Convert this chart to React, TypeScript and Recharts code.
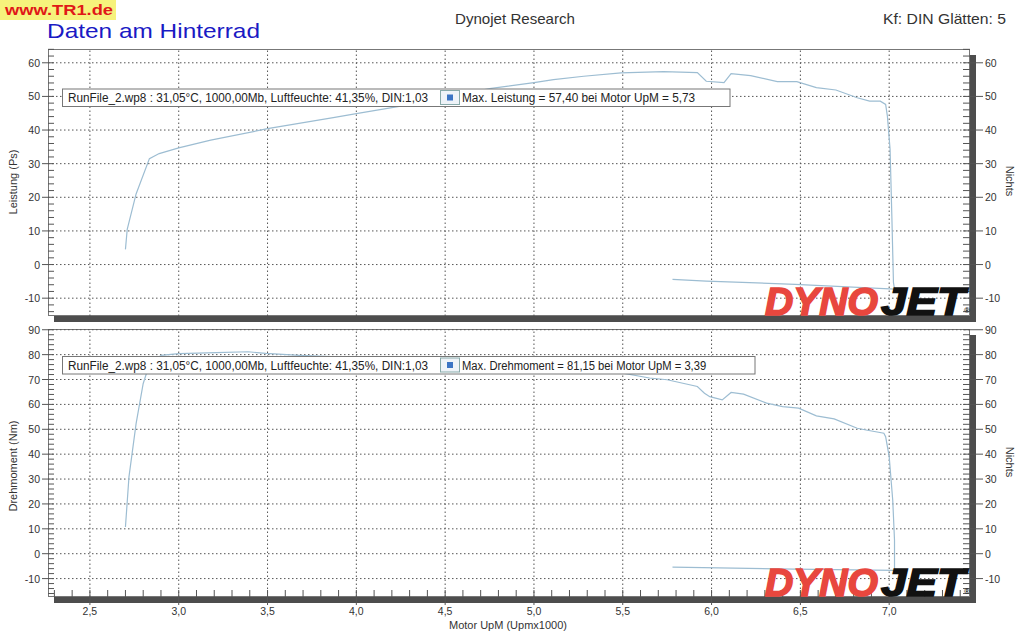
import React from 'react';
import { LineChart, Line, XAxis, YAxis, ReferenceLine } from 'recharts';

// Leistung (Ps) über Motor UpM (x1000) – Lauf inkl. Auslauf am Ende
const leistungRpm = [2.70, 2.71, 2.76, 2.835, 2.89, 3.00, 3.18, 3.50, 3.87, 4.00, 4.25, 4.50, 4.75, 5.00, 5.11, 5.28, 5.49, 5.73, 5.92, 5.97, 6.07, 6.11, 6.22, 6.37, 6.48, 6.59, 6.70, 6.82, 6.89, 6.95, 6.98, 6.99, 7.005, 7.015, 7.024, 7.03, 6.47, 5.97, 5.78];
const leistungPs = [4.5, 10.5, 21.0, 31.5, 33.0, 34.7, 37.0, 40.4, 43.7, 44.9, 47.1, 49.8, 52.3, 54.1, 55.0, 56.0, 57.0, 57.4, 57.1, 54.5, 54.1, 56.8, 56.2, 54.4, 54.4, 52.6, 51.9, 49.6, 48.6, 48.6, 47.6, 44.1, 34.3, 14.4, -5.3, -7.3, -5.9, -4.9, -4.4];

// Drehmoment (Nm)
const drehRpm = [2.70, 2.72, 2.76, 2.80, 2.83, 2.90, 3.00, 3.21, 3.39, 3.49, 3.68, 4.00, 4.50, 5.00, 5.50, 5.65, 5.75, 5.92, 5.96, 5.99, 6.06, 6.11, 6.18, 6.31, 6.40, 6.49, 6.59, 6.69, 6.82, 6.87, 6.97, 6.98, 7.00, 7.02, 7.03, 7.03, 6.47, 5.78];
const drehNm = [10.7, 31.0, 52.3, 68.4, 75.0, 79.7, 80.4, 80.8, 81.15, 80.5, 79.7, 78.8, 77.4, 75.8, 72.6, 70.6, 69.9, 67.2, 64.5, 63.1, 61.8, 64.8, 64.1, 60.5, 59.1, 58.5, 55.4, 54.2, 50.4, 49.7, 48.4, 47.0, 39.0, 21.5, 5.4, -6.7, -6.2, -5.4];

const rpmTicks = [2.5, 3.0, 3.5, 4.0, 4.5, 5.0, 5.5, 6.0, 6.5, 7.0];
const leistungTicks = [-10, 0, 10, 20, 30, 40, 50, 60];
const drehTicks = [-10, 0, 10, 20, 30, 40, 50, 60, 70, 80, 90];

const leistungLegende = 'Max. Leistung = 57,40 bei Motor UpM = 5,73';
const drehLegende = 'Max. Drehmoment = 81,15 bei Motor UpM = 3,39';
const laufInfo = 'RunFile_2.wp8 : 31,05°C, 1000,00Mb, Luftfeuchte: 41,35%, DIN:1,03';

const leistungData = leistungRpm.map((rpm, i) => ({ rpm, ps: leistungPs[i] }));
const drehData = drehRpm.map((rpm, i) => ({ rpm, nm: drehNm[i] }));

const X_DOMAIN: [number, number] = [2.264, 7.455];
const LEISTUNG_DOMAIN: [number, number] = [-15.3, 64.1];
const DREH_DOMAIN: [number, number] = [-17.4, 90.3];

const FONT = '"Liberation Sans", Arial, sans-serif';
const LINE = '#9dbdd2';
const GRID = '#555';

// kleine Zwischenstriche an den Achsen
const steps = (from: number, to: number, step: number) => {
  const out: number[] = [];
  for (let v = from; v <= to + 1e-9; v += step) out.push(Math.round(v * 10) / 10);
  return out;
};

const fmt = (v: number) => String(v).replace('.', ',');
const fmtRpm = (v: number) => v.toFixed(1).replace('.', ',');

const makeLeftTick = (majors: number[]) => (props: any) => {
  const { x, y, payload } = props;
  const major = majors.includes(payload.value);
  return (
    <g>
      <line x1={x} x2={x + 6} y1={y} y2={y} stroke="#555" />
      {major && <line x1={x - 6} x2={x} y1={y} y2={y} stroke="#555" />}
      {major && (
        <text x={x - 8} y={y} textAnchor="end" dominantBaseline="central" fontSize={10.5} fontFamily={FONT} fill="#333">
          {fmt(payload.value)}
        </text>
      )}
    </g>
  );
};

const makeRightTick = (majors: number[]) => (props: any) => {
  const { x, y, payload } = props;
  const major = majors.includes(payload.value);
  return (
    <g>
      <line x1={x - 7} x2={x} y1={y} y2={y} stroke="#555" />
      {major && <line x1={x} x2={x + 13} y1={y} y2={y} stroke="#555" />}
      {major && (
        <text x={x + 15} y={y} textAnchor="start" dominantBaseline="central" fontSize={10.5} fontFamily={FONT} fill="#333">
          {fmt(payload.value)}
        </text>
      )}
    </g>
  );
};

const RpmTick = (props: any) => {
  const { x, y, payload } = props;
  const major = rpmTicks.some((t) => Math.abs(t - payload.value) < 1e-6);
  return (
    <g>
      <line x1={x} x2={x} y1={y - 7} y2={major ? y + 8 : y} stroke="#555" />
      {major && (
        <text x={x} y={y + 14} textAnchor="middle" dominantBaseline="central" fontSize={10.5} fontFamily={FONT} fill="#333">
          {fmtRpm(payload.value)}
        </text>
      )}
    </g>
  );
};

const Frame = ({ top, height }: { top: number; height: number }) => (
  <div
    style={{
      position: 'absolute',
      left: 48,
      top,
      width: 922,
      height,
      boxSizing: 'border-box',
      border: '1px solid #777',
      boxShadow: '6px 6px 0 #4d4d4d',
      background: '#fff',
    }}
  />
);

const Grid = ({ yTicks }: { yTicks: number[] }) => (
  <>
    {yTicks.map((v) => (
      <ReferenceLine key={'h' + v} yAxisId="l" y={v} stroke={GRID} strokeDasharray="1.5 2.5" />
    ))}
    {rpmTicks.map((v) => (
      <ReferenceLine key={'v' + v} yAxisId="l" x={v} stroke={GRID} strokeDasharray="1.5 2.5" />
    ))}
  </>
);

const LegendBox = ({ y, w, text }: { y: number; w: number; text: string }) => (
  <g>
    <rect x={62.5} y={y} width={w} height={17.5} fill="#fff" stroke="#777" />
    <text x={68} y={y + 13} fontSize={12} fontFamily={FONT} fill="#222" textLength={360} lengthAdjust="spacingAndGlyphs">
      {laufInfo}
    </text>
    <rect x={440.5} y={y + 1.5} width={19} height={14} fill="#eef3f8" stroke="#8aa" />
    <rect x={447} y={y + 5.5} width={6} height={6} fill="#3b74c4" />
    <text x={462} y={y + 13} fontSize={12} fontFamily={FONT} fill="#222" textLength={text.length * 5.55} lengthAdjust="spacingAndGlyphs">
      {text}
    </text>
  </g>
);

const Logo = ({ base }: { base: number }) => (
  <g fontFamily={FONT} fontWeight={900} fontStyle="italic">
    <text x={765} y={base} fontSize={38} fill="#e8473e" stroke="#e8473e" strokeWidth={1.6} textLength={113} lengthAdjust="spacingAndGlyphs">DYNO</text>
    <text x={881} y={base} fontSize={38} fill="#111" stroke="#111" strokeWidth={1.6} textLength={84} lengthAdjust="spacingAndGlyphs">JET</text>
    <text x={964} y={base - 2} fontSize={8} fill="#111" fontStyle="normal">®</text>
  </g>
);

export default function App() {
  return (
    <div style={{ position: 'relative', width: 1024, height: 639, background: '#fff', overflow: 'hidden' }}>
      <style>{'body{margin:0}'}</style>
      <Frame top={49} height={267} />
      <Frame top={329} height={268} />

      <div style={{ position: 'absolute', left: 0, top: 0 }}>
        <LineChart width={1024} height={330} data={leistungData} margin={{ top: 49, right: 0, bottom: 14, left: 0 }}>
          <XAxis dataKey="rpm" type="number" domain={X_DOMAIN} allowDataOverflow hide />
          <YAxis yAxisId="l" orientation="left" width={48} type="number" domain={LEISTUNG_DOMAIN} allowDataOverflow
            ticks={steps(-14, 64, 2)} interval={0} tickLine={false} axisLine={false} tickSize={0} tickMargin={0}
            tick={makeLeftTick(leistungTicks)} />
          <YAxis yAxisId="r" orientation="right" width={54} type="number" domain={LEISTUNG_DOMAIN} allowDataOverflow
            ticks={steps(-14, 64, 2)} interval={0} tickLine={false} axisLine={false} tickSize={0} tickMargin={0}
            tick={makeRightTick(leistungTicks)} />
          {Grid({ yTicks: leistungTicks })}
          <Line yAxisId="l" type="linear" dataKey="ps" stroke={LINE} strokeWidth={1.2} dot={false} isAnimationActive={false} />
        </LineChart>
      </div>

      <div style={{ position: 'absolute', left: 0, top: 320 }}>
        <LineChart width={1024} height={319} data={drehData} margin={{ top: 9, right: 0, bottom: 0, left: 0 }}>
          <XAxis dataKey="rpm" type="number" domain={X_DOMAIN} allowDataOverflow height={42}
            ticks={steps(2.3, 7.4, 0.1)} interval={0} tickLine={false} axisLine={false} tickSize={0} tickMargin={0}
            tick={RpmTick} />
          <YAxis yAxisId="l" orientation="left" width={48} type="number" domain={DREH_DOMAIN} allowDataOverflow
            ticks={steps(-16, 90, 2)} interval={0} tickLine={false} axisLine={false} tickSize={0} tickMargin={0}
            tick={makeLeftTick(drehTicks)} />
          <YAxis yAxisId="r" orientation="right" width={54} type="number" domain={DREH_DOMAIN} allowDataOverflow
            ticks={steps(-16, 90, 2)} interval={0} tickLine={false} axisLine={false} tickSize={0} tickMargin={0}
            tick={makeRightTick(drehTicks)} />
          {Grid({ yTicks: drehTicks })}
          <Line yAxisId="l" type="linear" dataKey="nm" stroke={LINE} strokeWidth={1.2} dot={false} isAnimationActive={false} />
        </LineChart>
      </div>

      <svg width={1024} height={639} style={{ position: 'absolute', left: 0, top: 0, pointerEvents: 'none' }}>
        <rect x={0} y={0} width={116} height={20} fill="#f6f27c" />
        <text x={5} y={15} fontSize={14} fontWeight={700} fontFamily={FONT} fill="#e01818" textLength={108} lengthAdjust="spacingAndGlyphs">
          www.TR1.de
        </text>
        <text x={47} y={38} fontSize={21} fontFamily={FONT} fill="#1a1ac4" textLength={213} lengthAdjust="spacingAndGlyphs">
          Daten am Hinterrad
        </text>
        <text x={455} y={24} fontSize={15} fontFamily={FONT} fill="#333" textLength={120} lengthAdjust="spacingAndGlyphs">
          Dynojet Research
        </text>
        <text x={883} y={24} fontSize={15} fontFamily={FONT} fill="#333" textLength={123} lengthAdjust="spacingAndGlyphs">
          Kf: DIN Glätten: 5
        </text>

        <LegendBox y={89} w={667.5} text={leistungLegende} />
        <LegendBox y={356.5} w={692.5} text={drehLegende} />

        <Logo base={315} />
        <Logo base={596} />

        <text transform="translate(17,182) rotate(-90)" textAnchor="middle" fontSize={11} fontFamily={FONT} fill="#333">
          Leistung (Ps)
        </text>
        <text transform="translate(17,466) rotate(-90)" textAnchor="middle" fontSize={11} fontFamily={FONT} fill="#333">
          Drehmoment (Nm)
        </text>
        <text transform="translate(1006,181) rotate(90)" textAnchor="middle" fontSize={11} fontFamily={FONT} fill="#333">
          Nichts
        </text>
        <text transform="translate(1006,462) rotate(90)" textAnchor="middle" fontSize={11} fontFamily={FONT} fill="#333">
          Nichts
        </text>
        <text x={508} y={629} textAnchor="middle" fontSize={11} fontFamily={FONT} fill="#333">
          Motor UpM (Upmx1000)
        </text>
      </svg>
    </div>
  );
}
